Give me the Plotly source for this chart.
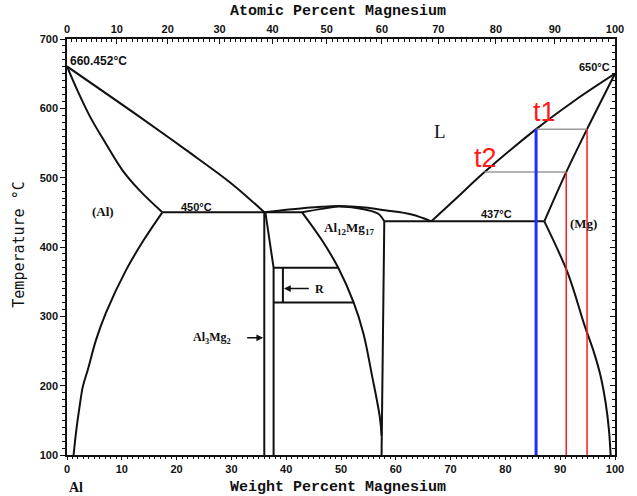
import plotly.graph_objects as go

# ---------------- phase-boundary data (wt.% Mg, deg C) ----------------
al_liq_wt = [0, 13.2, 21.7, 30.1, 36.0]
al_liq_T = [660.452, 588, 540, 491, 450]

al_sol_wt = [0, 2.0, 4.2, 7.1, 10.1, 13.2, 17.4]
al_sol_T = [660.452, 624, 588, 549, 511, 482, 450]

al_solvus_wt = [17.4, 14.0, 10.8, 7.1, 5.3, 3.8, 2.9, 2.3, 1.7, 1.2]
al_solvus_T = [450, 410, 367, 305, 266, 223, 199, 170, 136, 100]

eut450_wt = [17.4, 42.9]
eut450_T = [450, 450]

b_left_wt = [36.0, 36.0]
b_left_T = [450, 100]
b_right_wt = [36.2, 37.7, 37.7]
b_right_T = [450, 370, 100]

gam_liq_wt = [36.0, 40.5, 46.5, 49.5, 54.4, 58.0, 62.9, 66.5]
gam_liq_T = [450, 454, 458, 459, 457, 453, 447, 437]

gam_top_wt = [42.9, 46.5, 49.5, 54.4, 56.8, 57.9]
gam_top_T = [450, 455, 458.5, 454, 448, 437]

gam_left_wt = [42.9, 46.5, 49.5, 52.3, 54.1, 55.6, 57.1, 57.4]
gam_left_T = [450, 410, 370, 320, 275, 217, 154, 128]

gam_right_wt = [57.9, 57.4]
gam_right_T = [437, 100]

r_top_wt, r_top_T = [37.7, 49.5], [370, 370]
r_bot_wt, r_bot_T = [37.7, 52.3], [320, 320]
r_in_wt, r_in_T = [39.4, 39.4], [320, 370]

eut437_wt = [57.9, 87.1]
eut437_T = [437, 437]

mg_liq_wt = [66.5, 71.0, 76.2, 85.6, 92.6, 100]
mg_liq_T = [437, 470, 508, 570, 611, 650]

mg_sol_wt = [87.1, 91.1, 94.9, 100]
mg_sol_T = [437, 508, 570, 650]

mg_solvus_wt = [87.1, 91.4, 94.4, 96.2, 97.4, 98.3, 98.9, 99.2]
mg_solvus_T = [437, 362, 288, 247, 213, 175, 136, 100]

# alloy composition and lever-rule construction
alloy_wt = 85.6
t1_T, t2_T = 570, 508
t1_liq_wt, t1_sol_wt = 85.6, 94.9
t2_liq_wt, t2_sol_wt = 76.2, 91.1

# axis ticks
wt_ticks = list(range(0, 101, 10))
at_ticks = list(range(0, 101, 10))
T_ticks = list(range(100, 701, 100))

M_AL, M_MG = 26.9815, 24.305


def at_to_wt(a):
    return 100.0 * a * M_MG / (a * M_MG + (100.0 - a) * M_AL)


BLACK = "#111111"
LW = 2

fig = go.Figure()


def line(x, y, color=BLACK, width=LW, shape="spline"):
    fig.add_trace(go.Scatter(x=x, y=y, mode="lines",
                             line=dict(color=color, width=width, shape=shape,
                                       smoothing=1.0),
                             hoverinfo="skip", showlegend=False))


line(al_liq_wt, al_liq_T)
line(al_sol_wt, al_sol_T)
line(al_solvus_wt, al_solvus_T)
line(eut450_wt, eut450_T, shape="linear")
line(b_left_wt, b_left_T, shape="linear")
line(b_right_wt, b_right_T, shape="linear")
line(gam_liq_wt, gam_liq_T)
line(gam_top_wt, gam_top_T)
line(gam_left_wt, gam_left_T)
line(gam_right_wt, gam_right_T, shape="linear")
line(r_top_wt, r_top_T, shape="linear")
line(r_bot_wt, r_bot_T, shape="linear")
line(r_in_wt, r_in_T, shape="linear")
line(eut437_wt, eut437_T, shape="linear")
line(mg_liq_wt, mg_liq_T)
line(mg_sol_wt, mg_sol_T)
line(mg_solvus_wt, mg_solvus_T)

# tie lines at t1 / t2
line([t1_liq_wt, t1_sol_wt], [t1_T, t1_T], color="#9a9a9a", width=1.5, shape="linear")
line([t2_liq_wt, t2_sol_wt], [t2_T, t2_T], color="#9a9a9a", width=1.5, shape="linear")
# solid compositions at t1 / t2
line([t1_sol_wt, t1_sol_wt], [t1_T, 100], color="#ff1a1a", width=1.5, shape="linear")
line([t2_sol_wt, t2_sol_wt], [t2_T, 100], color="#ff1a1a", width=1.5, shape="linear")
# alloy composition
line([alloy_wt, alloy_wt], [t1_T, 100], color="#1f2dff", width=3, shape="linear")

# secondary axes (atomic percent on top, mirrored ticks on the right)
fig.add_trace(go.Scatter(x=[0, 100], y=[100, 700], xaxis="x2", yaxis="y2",
                         mode="markers", marker=dict(opacity=0),
                         hoverinfo="skip", showlegend=False))

tickfont = dict(family="Liberation Sans", size=11, color=BLACK, weight="bold")
labfont = dict(family="Liberation Sans", size=11, color=BLACK, weight="bold")
serif = dict(family="Liberation Serif", size=13, color=BLACK, weight="bold")

fig.update_layout(
    width=637, height=496,
    margin=dict(l=67, r=22, t=39, b=41),
    paper_bgcolor="white", plot_bgcolor="white",
    showlegend=False,
    xaxis=dict(range=[0, 100], tickvals=wt_ticks, ticks="outside", ticklen=3,
               tickwidth=1.2, tickcolor=BLACK, showline=True, linecolor=BLACK,
               linewidth=1.5, showgrid=False, zeroline=False, tickfont=tickfont,
               minor=dict(dtick=1, ticks="outside", ticklen=2, tickcolor=BLACK,
                          tickwidth=1)),
    xaxis2=dict(range=[0, 100], overlaying="x", side="top", anchor="y",
                tickvals=[at_to_wt(a) for a in at_ticks],
                ticktext=[str(a) for a in at_ticks],
                ticks="inside", ticklen=5, tickwidth=1.2, tickcolor=BLACK,
                showline=True, linecolor=BLACK, linewidth=1.5, showgrid=False,
                zeroline=False, tickfont=tickfont,
                minor=dict(tickvals=[at_to_wt(a) for a in range(0, 101)],
                           ticks="inside", ticklen=3, tickcolor=BLACK,
                           tickwidth=1)),
    yaxis=dict(range=[100, 700], tickvals=T_ticks, ticks="outside", ticklen=5,
               tickwidth=1.2, tickcolor=BLACK, showline=True, linecolor=BLACK,
               linewidth=1.5, showgrid=False, zeroline=False, tickfont=tickfont,
               minor=dict(dtick=10, ticks="outside", ticklen=3,
                          tickcolor=BLACK, tickwidth=1)),
    yaxis2=dict(range=[100, 700], overlaying="y", side="right", anchor="x",
                tickvals=T_ticks, showticklabels=False, ticks="inside",
                ticklen=5, tickwidth=1.2, tickcolor=BLACK, showline=True,
                linecolor=BLACK, linewidth=1.5, showgrid=False, zeroline=False,
                minor=dict(dtick=10, ticks="inside", ticklen=3,
                           tickcolor=BLACK, tickwidth=1)),
)

ann = []


def text(x, y, s, font, xanchor="center", yanchor="middle", **kw):
    ann.append(dict(x=x, y=y, text=s, showarrow=False, font=font,
                    xanchor=xanchor, yanchor=yanchor, **kw))


text(0.2, 668, "660.452°C", dict(labfont, size=12), xanchor="left")
text(96.3, 659, "650°C", labfont)
text(23.6, 457, "450°C", labfont)
text(78.3, 448, "437°C", labfont)
text(6.5, 451, "(Al)", serif)
text(94.2, 434, "(Mg)", serif)
text(51.4, 427, "Al<sub>12</sub>Mg<sub>17</sub>", serif)
text(46.0, 340, "R", dict(serif, size=12))
text(26.4, 269, "Al<sub>3</sub>Mg<sub>2</sub>", dict(serif, size=12))
text(68.0, 567, "L", dict(family="Liberation Serif", size=19, color=BLACK))
text(87.2, 594, "t1", dict(family="Liberation Sans", size=27, color="#ff1a1a"))
text(76.3, 529, "t2", dict(family="Liberation Sans", size=27, color="#ff1a1a"))
text(90.6, 93, "91", dict(family="Liberation Sans", size=9, color="#e03030",
                          weight="bold"), yanchor="top")

# arrows to the narrow phase fields
ann.append(dict(x=35.8, y=269, ax=32.6, ay=269, axref="x", ayref="y",
                xref="x", yref="y", text="", showarrow=True, arrowhead=2,
                arrowsize=0.9, arrowwidth=1.5, arrowcolor=BLACK))
ann.append(dict(x=39.6, y=340, ax=44.4, ay=340, axref="x", ayref="y",
                xref="x", yref="y", text="", showarrow=True, arrowhead=2,
                arrowsize=0.9, arrowwidth=1.5, arrowcolor=BLACK))

# axis titles and end-member labels
mono = dict(family="Liberation Mono", size=15, color=BLACK, weight="bold")
ann.append(dict(x=49.4, y=1.067, xref="x", yref="paper", text="Atomic Percent Magnesium",
                showarrow=False, font=mono, xanchor="center", yanchor="middle"))
ann.append(dict(x=49.4, y=-0.078, xref="x", yref="paper", text="Weight Percent Magnesium",
                showarrow=False, font=mono, xanchor="center", yanchor="middle"))
ann.append(dict(x=-0.088, y=0.505, xref="paper", yref="paper", text="Temperature °C",
                showarrow=False, textangle=-90,
                font=dict(family="DejaVu Sans Mono", size=15, color=BLACK),
                xanchor="center", yanchor="middle"))
ann.append(dict(x=1.7, y=-0.078, xref="x", yref="paper", text="Al", showarrow=False,
                font=dict(family="Liberation Serif", size=14, color=BLACK, weight="bold"),
                xanchor="center", yanchor="middle"))
ann.append(dict(x=101.4, y=-0.078, xref="x", yref="paper", text="Mg", showarrow=False,
                font=dict(family="Liberation Serif", size=14, color=BLACK, weight="bold"),
                xanchor="center", yanchor="middle"))

for a in ann:
    a.setdefault("xref", "x")
    a.setdefault("yref", "y")
fig.update_layout(annotations=ann)

fig.write_html("out.html")
